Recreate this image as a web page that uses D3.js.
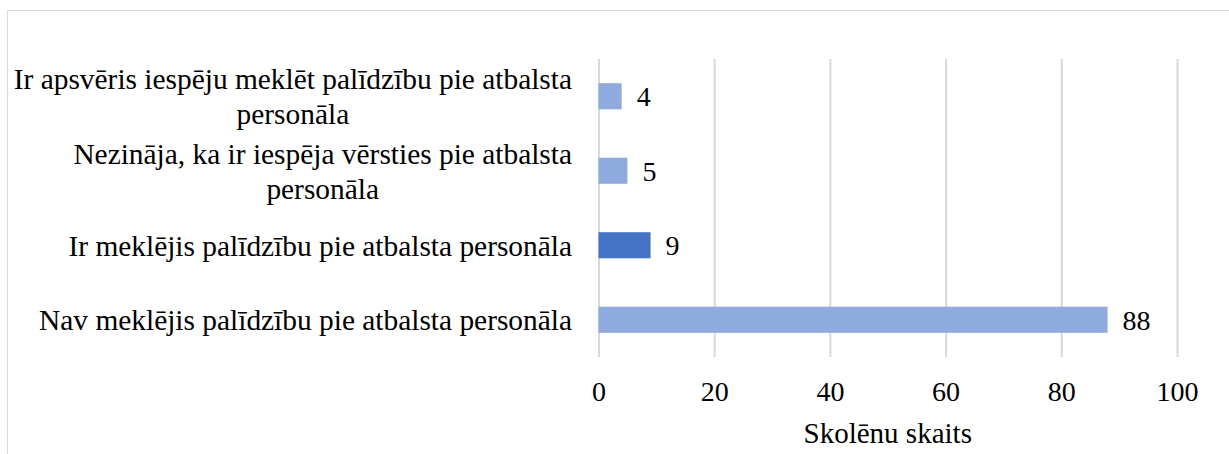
<!DOCTYPE html>
<html>
<head>
<meta charset="utf-8">
<script src="https://cdn.jsdelivr.net/npm/d3@7"></script>
<style>
  body { margin: 0; background: #fff; }
  svg, svg text { font-family: 'Liberation Serif', 'Times New Roman', Times, 'DejaVu Serif', serif !important; fill: #000; }
</style>
</head>
<body>
<div id="main"><svg width="1229" height="454"></svg></div>
<script>
// Chart data (top to bottom)
var categories = [
    "Ir apsvēris iespēju meklēt palīdzību pie atbalsta personāla",
    "Nezināja, ka ir iespēja vērsties pie atbalsta personāla",
    "Ir meklējis palīdzību pie atbalsta personāla",
    "Nav meklējis palīdzību pie atbalsta personāla"
];
var values = [4, 5, 9, 88];
var highlighted = [false, false, true, false];
var xTicks = [0, 20, 40, 60, 80, 100];
var axisTitle = "Skolēnu skaits";

var serif = "'Liberation Serif', 'Times New Roman', Times, serif";

var svg = d3.select("#main").select("svg")
    .style("font-family", serif);

// Outer chart border (right/bottom edges fall outside the picture)
svg.append("rect")
    .attr("x", 7.5).attr("y", 10.5)
    .attr("width", 1240).attr("height", 460)
    .attr("fill", "#fff")
    .attr("stroke", "#d9d9d9")
    .attr("stroke-width", 1);

// Plot area
var plot = {left: 598.5, right: 1177, top: 59, bottom: 357};

var xScale = d3.scaleLinear()
    .domain([0, 100])
    .range([plot.left, plot.right]);

var yScale = d3.scaleBand()
    .domain(categories)
    .range([plot.top, plot.bottom])
    .paddingInner(0.65)
    .paddingOuter(0.325);

// Gridlines
var grid = svg.append("g")
    .attr("class", "grid")
    .attr("transform", "translate(0," + plot.bottom + ")")
    .call(d3.axisBottom(xScale).tickValues(xTicks).tickSize(-(plot.bottom - plot.top)).tickFormat(""));
grid.select(".domain").remove();
grid.selectAll("line").attr("stroke", "#d9d9d9").attr("stroke-width", 2);

// X axis labels
var xAxis = svg.append("g")
    .attr("class", "x axis")
    .attr("transform", "translate(0," + plot.bottom + ")")
    .call(d3.axisBottom(xScale).tickValues(xTicks).tickSize(0).tickPadding(24).tickFormat(d3.format("d")));
xAxis.attr("font-family", serif).attr("font-size", null);
xAxis.select(".domain").remove();
xAxis.selectAll("text")
    .style("font-family", serif)
    .style("font-size", "28px");

// Bars
svg.selectAll(".bar")
    .data(values)
    .enter().append("rect")
    .attr("class", "bar")
    .attr("x", xScale(0))
    .attr("y", function(d, i) { return yScale(categories[i]); })
    .attr("width", function(d) { return xScale(d) - xScale(0); })
    .attr("height", yScale.bandwidth())
    .attr("fill", function(d, i) { return highlighted[i] ? "#4472C4" : "#8FAADC"; });

// Value labels
svg.selectAll(".value")
    .data(values)
    .enter().append("text")
    .attr("class", "value")
    .attr("x", function(d) { return xScale(d) + 15; })
    .attr("y", function(d, i) { return yScale(categories[i]) + yScale.bandwidth() / 2; })
    .attr("dy", "0.35em")
    .style("font-family", serif)
    .style("font-size", "28px")
    .text(function(d) { return d; });

// Category labels, wrapped and right-aligned as a centered block
var labelRight = 572;
var maxLine = 590;
var lineHeight = 35;
var labelSize = "29.4px";

categories.forEach(function(cat) {
    var t = svg.append("text")
        .style("font-family", serif)
        .style("font-size", labelSize)
        .attr("text-anchor", "middle");
    var probe = svg.append("text").style("font-family", serif).style("font-size", labelSize);
    var words = cat.split(" ");
    var lines = [];
    var current = [];
    words.forEach(function(w) {
        probe.text(current.concat([w]).join(" "));
        if (probe.node().getComputedTextLength() > maxLine && current.length) {
            lines.push(current.join(" "));
            current = [w];
        } else {
            current.push(w);
        }
    });
    lines.push(current.join(" "));

    var widest = 0;
    lines.forEach(function(l) {
        probe.text(l);
        widest = Math.max(widest, probe.node().getComputedTextLength());
    });
    probe.remove();

    var cx = labelRight - widest / 2;
    var cy = yScale(cat) + yScale.bandwidth() / 2;
    lines.forEach(function(l, i) {
        t.append("tspan")
            .attr("x", cx)
            .attr("y", cy + (i - (lines.length - 1) / 2) * lineHeight)
            .attr("dy", "0.35em")
            .text(l);
    });
});

// Axis title
svg.append("text")
    .attr("x", (plot.left + plot.right) / 2)
    .attr("y", 443)
    .attr("text-anchor", "middle")
    .style("font-family", serif)
    .style("font-size", "29px")
    .text(axisTitle);
</script>
</body>
</html>
